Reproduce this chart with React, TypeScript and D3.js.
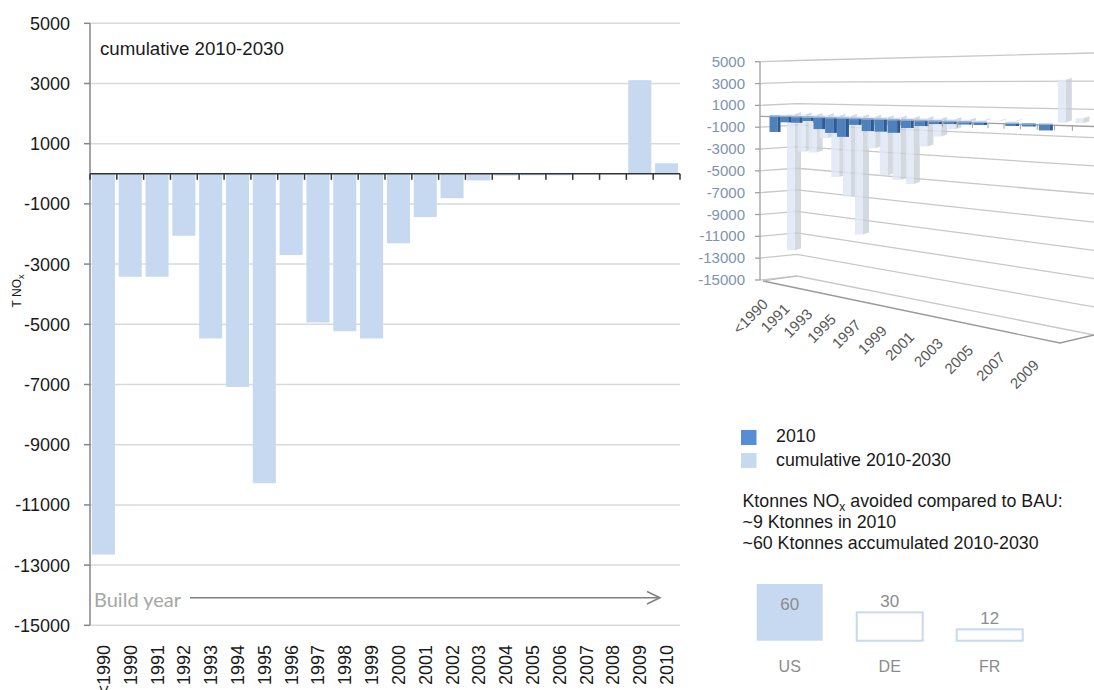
import React from 'react';
import * as d3 from 'd3';

// build years on the category axis
const categories = ['<1990', '1990', '1991', '1992', '1993', '1994', '1995', '1996', '1997', '1998', '1999',
  '2000', '2001', '2002', '2003', '2004', '2005', '2006', '2007', '2008', '2009', '2010'];

// T NOx, cumulative 2010-2030
const cumulative = [-12650, -3420, -3420, -2060, -5470, -7080, -10280, -2700, -4940, -5230, -5470,
  -2310, -1440, -810, -220, -60, -50, -50, 0, 0, 3110, 350];

// T NOx, 2010 only (front row of the small 3D chart)
const year2010 = [-1450, -500, -500, -300, -1000, -1300, -1600, -500, -1000, -1000, -1050,
  -600, -400, -200, -100, -100, -100, 0, -100, -100, -400, 0];

const yTickValues = [-15000, -13000, -11000, -9000, -7000, -5000, -3000, -1000, 1000, 3000, 5000];

const countries = ['US', 'DE', 'FR'];
const accumulated = [60, 30, 12];

const FONT = 'Liberation Sans, Arial, sans-serif';
const LIGHT = '#c6d9f1';
const DARK = '#558ed5';

function MainChart() {
  const x = d3.scaleBand().domain(categories).range([90, 680]).paddingInner(0.14).paddingOuter(0.07);
  const y = d3.scaleLinear().domain([-15000, 5000]).range([625.3, 23.3]);
  const bounds = d3.range(categories.length + 1).map(i => 90 + i * x.step());

  return (
    <g>
      {yTickValues.map(t => (
        <line key={t} x1={90} x2={680} y1={y(t)} y2={y(t)} stroke="#d9d9d9" strokeWidth={1.5} />
      ))}
      {cumulative.map((v, i) => (
        <rect key={i} x={x(categories[i])} width={x.bandwidth()}
          y={y(Math.max(0, v))} height={Math.abs(y(v) - y(0))} fill={LIGHT} />
      ))}
      <line x1={90} x2={90} y1={y(5000)} y2={y(-15000)} stroke="#868686" strokeWidth={1.5} />
      {yTickValues.map(t => (
        <g key={t}>
          <line x1={84} x2={90} y1={y(t)} y2={y(t)} stroke="#868686" strokeWidth={1.5} />
          <text x={70} y={y(t) + 6.5} textAnchor="end" fontSize={18} fontFamily={FONT} fill="#1a1a1a">{t}</text>
        </g>
      ))}
      <line x1={90} x2={680} y1={y(0)} y2={y(0)} stroke="#333" strokeWidth={1.5} />
      {bounds.map((b, i) => (
        <line key={i} x1={b} x2={b} y1={y(0)} y2={y(0) + 6} stroke="#333" strokeWidth={1.5} />
      ))}
      {categories.map(c => (
        <text key={c} transform={`translate(${x(c) + x.bandwidth() / 2 + 6.5},645) rotate(-90)`}
          textAnchor="end" fontSize={18} fontFamily={FONT} fill="#1a1a1a">{c}</text>
      ))}
      <text transform="translate(21,291) rotate(-90)" textAnchor="middle" fontSize={12} fontFamily={FONT} fill="#1a1a1a">
        T NO<tspan dy={3} fontSize={9}>x</tspan>
      </text>
      <text x={100} y={55} fontSize={18.7} fontFamily={FONT} fill="#1a1a1a">cumulative 2010-2030</text>
      <text x={94} y={607} fontSize={20} fontFamily="Lato, sans-serif" fill="#a6a6a6">Build year</text>
      <line x1={190} x2={660} y1={597.7} y2={597.7} stroke="#808080" strokeWidth={1.5} />
      <polyline points="647,591.5 660,597.7 647,604" fill="none" stroke="#808080" strokeWidth={1.5} />
    </g>
  );
}

function Inset() {
  // simple perspective: categories get wider towards the right
  const depth = d3.scaleLinear().domain([0, 20]).range([1, 0.782]);
  const xFront = (i: number) => 775 + 10.59 * i / depth(i);
  const yAxis = d3.scaleLinear().domain([-15000, 5000]).range([280, 61.7]);
  const wallL = d3.scaleLinear().domain([-15000, 5000]).range([276, 60.5]);
  const wallR = d3.scaleLinear().domain([-15000, 5000]).range([335, 53]);
  const wallT = d3.scaleLinear().domain([797, 1094]).range([0, 1]);
  const yWall = (v: number, px: number) => d3.interpolateNumber(wallL(v), wallR(v))(wallT(px));

  return (
    <g>
      {yTickValues.map(t => (
        <polyline key={t} points={`760,${yAxis(t)} 797,${wallL(t)} 1094,${wallR(t)}`}
          fill="none" stroke="#c8c8c8" strokeWidth={1.3} />
      ))}
      <polyline points="763,281 1060,343 1094,335" fill="none" stroke="#9a9a9a" strokeWidth={1.3} />
      <line x1={763} x2={797} y1={281} y2={276} stroke="#bdbdbd" strokeWidth={1} />
      {cumulative.map((v, i) => {
        if (Math.abs(v) < 1) return null;
        const xc = xFront(i) + 19;
        const y0 = yWall(0, xc);
        const y1 = yWall(v, xc);
        const top = Math.min(y0, y1);
        const h = Math.abs(y1 - y0);
        return (
          <g key={i}>
            <rect x={xc - 7} y={top} width={8} height={h} fill="#dfe8f4" opacity={0.85} />
            <polygon points={`${xc + 1},${top} ${xc + 7},${top - 2} ${xc + 7},${top + h - 2} ${xc + 1},${top + h}`}
              fill="#c5ccd6" opacity={0.75} />
          </g>
        );
      })}
      <line x1={760} x2={1094} y1={yAxis(0)} y2={yWall(0, 1094) + 3} stroke="#a0a0a0" strokeWidth={1.3} />
      {d3.range(categories.length).map(i => {
        const bx = xFront(i + 0.5);
        const by = d3.interpolateNumber(yAxis(0), yWall(0, 1094) + 3)((bx - 760) / 334);
        return <line key={i} x1={bx} x2={bx} y1={by} y2={by + 5} stroke="#a0a0a0" strokeWidth={1} />;
      })}
      {year2010.map((v, i) => {
        if (Math.abs(v) < 1) return null;
        const xc = xFront(i);
        const w = 11 + 0.15 * i;
        const y0 = yWall(0, xc) + 3;
        const y1 = yWall(v, xc) + 3;
        const top = Math.min(y0, y1);
        const h = Math.max(2, Math.abs(y1 - y0));
        return (
          <g key={i}>
            <rect x={xc - w / 2} y={top} width={w - 3} height={h} fill="#4f81bd" />
            <rect x={xc + w / 2 - 3} y={top} width={3} height={h} fill="#2d5b94" />
            <rect x={xc - w / 2} y={top - 1.5} width={w} height={1.5} fill="#8eb0dc" />
          </g>
        );
      })}
      <line x1={760} x2={760} y1={yAxis(5000)} y2={yAxis(-15000)} stroke="#a0a0a0" strokeWidth={1.3} />
      {yTickValues.map(t => (
        <g key={t}>
          <line x1={755} x2={760} y1={yAxis(t)} y2={yAxis(t)} stroke="#a0a0a0" strokeWidth={1.3} />
          <text x={745} y={yAxis(t) + 5} textAnchor="end" fontSize={15} fontFamily={FONT} fill="#7f93ad">{t}</text>
        </g>
      ))}
      {categories.map((c, i) => {
        if (i % 2 === 1) return null;
        const lx = xFront(i) - 6;
        const ly = 306 + (lx - 773) * 0.225;
        return (
          <text key={c} transform={`translate(${lx},${ly}) rotate(-45)`} textAnchor="end"
            fontSize={15} fontFamily={FONT} fill="#595959">{c}</text>
        );
      })}
    </g>
  );
}

function Summary() {
  const xc = d3.scaleBand().domain(countries).range([756.7, 1022.7]).paddingInner(0.34);
  const yc = d3.scaleLinear().domain([0, 60]).range([640.7, 584]);
  return (
    <g fontFamily={FONT}>
      <rect x={741} y={430} width={15.5} height={15} fill={DARK} />
      <rect x={741} y={453} width={15.5} height={15} fill={LIGHT} />
      <text x={776} y={442} fontSize={17.8} fill="#1a1a1a">2010</text>
      <text x={776} y={466} fontSize={17.8} fill="#1a1a1a">cumulative 2010-2030</text>
      <text x={742.5} y={506.7} fontSize={17.8} fill="#1a1a1a">
        Ktonnes NO<tspan dy={4} fontSize={12}>x</tspan><tspan dy={-4}> avoided compared to BAU:</tspan>
      </text>
      <text x={742.5} y={528} fontSize={17.8} fill="#1a1a1a">~9 Ktonnes in 2010</text>
      <text x={742.5} y={548.5} fontSize={17.8} fill="#1a1a1a">~60 Ktonnes accumulated 2010-2030</text>
      {accumulated.map((v, i) => {
        const bx = xc(countries[i]);
        const cx = bx + xc.bandwidth() / 2;
        const filled = i === 0;
        return (
          <g key={countries[i]}>
            <rect x={bx} y={yc(v)} width={xc.bandwidth()} height={yc(0) - yc(v)}
              fill={filled ? LIGHT : '#fff'} stroke={LIGHT} strokeWidth={filled ? 0 : 2} />
            <text x={cx} y={filled ? yc(v) + 26 : yc(v) - 5.5} textAnchor="middle" fontSize={17} fill="#8c8c8c">{v}</text>
            <text x={cx} y={671.7} textAnchor="middle" fontSize={16} fill="#8c8c8c">{countries[i]}</text>
          </g>
        );
      })}
    </g>
  );
}

export default function App() {
  return (
    <svg width={1094} height={690} style={{ position: 'absolute', left: 0, top: 0, background: '#fff' }}>
      <MainChart />
      <Inset />
      <Summary />
    </svg>
  );
}
